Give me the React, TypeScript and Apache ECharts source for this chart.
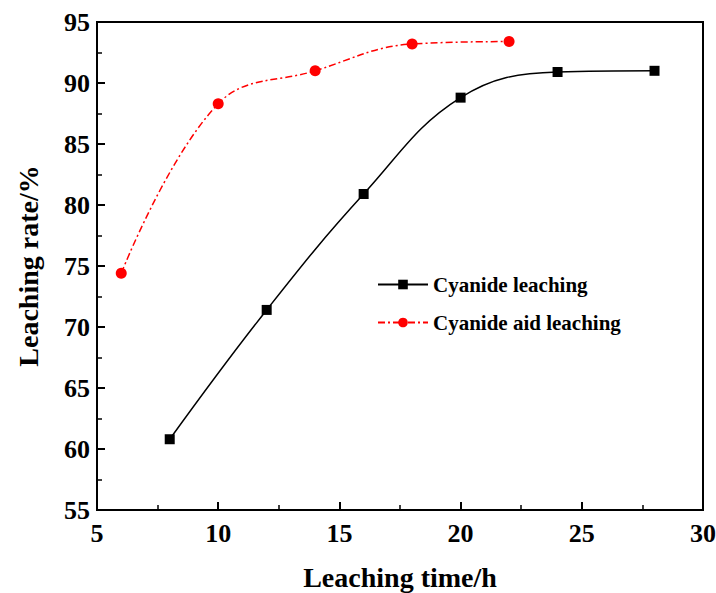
import React, { useEffect, useRef } from "react";
import * as echarts from "echarts";

const cyanideTimes = [8, 12, 16, 20, 24, 28];
const cyanideRates = [60.8, 71.4, 80.9, 88.8, 90.9, 91.0];
const aidTimes = [6, 10, 14, 18, 22];
const aidRates = [74.4, 88.3, 91.0, 93.2, 93.4];
const seriesNames = ["Cyanide leaching", "Cyanide aid leaching"];

const FONT = "'Liberation Serif', 'Times New Roman', serif";

export default function App() {
  const ref = useRef<HTMLDivElement>(null);
  useEffect(() => {
    if (!ref.current) return;
    const chart = echarts.init(ref.current, undefined, { renderer: "svg" });
    const axisCommon = {
      axisLine: { show: true, onZero: false, lineStyle: { color: "#000", width: 2 } },
      axisTick: { show: true, inside: true, length: 8, lineStyle: { color: "#000", width: 2 } },
      minorTick: { show: true, splitNumber: 2, length: 5, lineStyle: { color: "#000", width: 1.5 } },
      splitLine: { show: false },
      nameTextStyle: { fontFamily: FONT, fontWeight: "bold", fontSize: 28, color: "#000" },
    };
    chart.setOption({
      animation: false,
      backgroundColor: "#fff",
      grid: {
        left: 97,
        top: 22,
        right: 13,
        bottom: 83,
        outerBoundsMode: "none",
        containLabel: false,
        show: true,
        borderColor: "#000",
        borderWidth: 2,
        backgroundColor: "transparent",
      },
      legend: {
        orient: "vertical",
        left: 372,
        top: 269,
        itemWidth: 50,
        itemHeight: 12,
        itemGap: 17,
        data: seriesNames,
        textStyle: { fontFamily: FONT, fontWeight: "bold", fontSize: 21, color: "#000" },
      },
      xAxis: {
        type: "value",
        min: 5,
        max: 30,
        interval: 5,
        name: "Leaching time/h",
        nameLocation: "middle",
        nameGap: 53,
        ...axisCommon,
        axisLabel: { fontFamily: FONT, fontWeight: "bold", fontSize: 26, color: "#000", margin: 10 },
      },
      yAxis: {
        type: "value",
        min: 55,
        max: 95,
        interval: 5,
        name: "Leaching rate/%",
        nameLocation: "middle",
        nameGap: 55,
        ...axisCommon,
        axisLabel: { fontFamily: FONT, fontWeight: "bold", fontSize: 26, color: "#000", margin: 7 },
      },
      series: [
        {
          name: seriesNames[0],
          type: "line",
          data: cyanideTimes.map((t, i) => [t, cyanideRates[i]]),
          smooth: 0.4,
          symbol: "rect",
          symbolSize: 10,
          itemStyle: { color: "#000" },
          lineStyle: { color: "#000", width: 1.5 },
        },
        {
          name: seriesNames[1],
          type: "line",
          data: aidTimes.map((t, i) => [t, aidRates[i]]),
          smooth: 0.4,
          symbol: "circle",
          symbolSize: 11,
          itemStyle: { color: "#ff0000" },
          lineStyle: { color: "#ff0000", width: 1.5, type: [7, 3, 2, 3] },
        },
      ],
    });
    return () => chart.dispose();
  }, []);
  return <div ref={ref} style={{ width: 716, height: 593, position: "absolute", left: 0, top: 0 }} />;
}
